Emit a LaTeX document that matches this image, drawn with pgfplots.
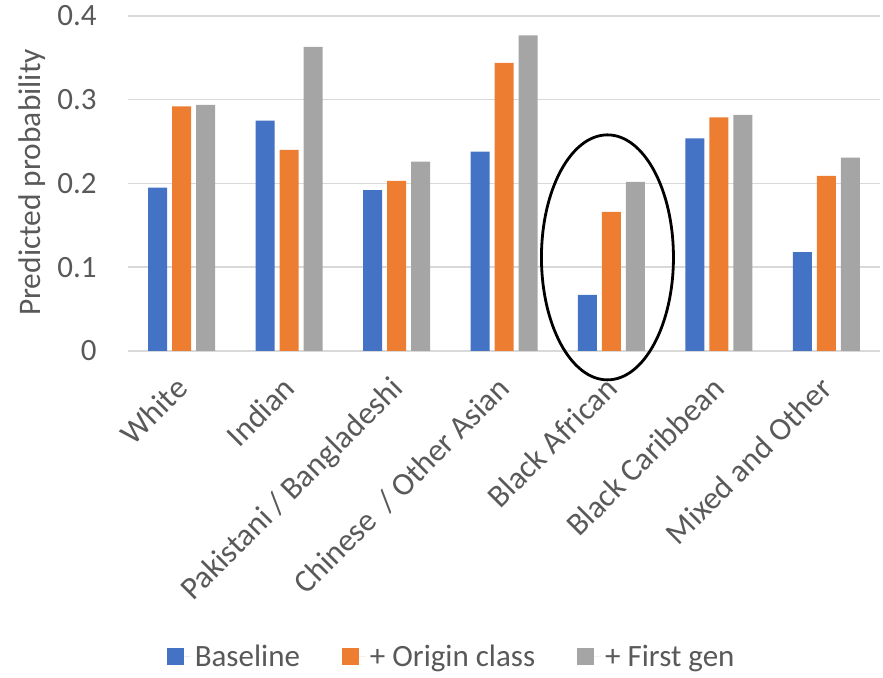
\documentclass[border=0pt]{standalone}
\usepackage{pgfplots}
\pgfplotsset{compat=1.18}
\usepackage{fontspec}
\setmainfont{Carlito}
\definecolor{cblue}{HTML}{4472C4}
\definecolor{corange}{HTML}{ED7D31}
\definecolor{cgray}{HTML}{A5A5A5}
\definecolor{gridgray}{HTML}{D9D9D9}
\definecolor{textgray}{HTML}{595959}
\begin{document}
\begin{tikzpicture}
\begin{axis}[
  width=376pt, height=167.5pt, scale only axis,
  ybar=2.5pt, bar width=9.5pt,
  xmin=-0.5, xmax=6.5, ymin=0, ymax=0.4,
  xtick={0,1,2,3,4,5,6},
  xticklabels={White,Indian,Pakistani / Bangladeshi,Chinese~ / Other Asian,Black African,Black Caribbean,Mixed and Other},
  ytick={0,0.1,0.2,0.3,0.4},
  yticklabels={0,0.1,0.2,0.3,0.4},
  ymajorgrids, grid style={line width=0.75pt, color=gridgray},
  axis line style={draw=none},
  major tick length=0pt,
  tick style={draw=none},
  tick label style={font=\fontsize{15.5}{18}\selectfont, text=textgray},
  yticklabel style={anchor=east, inner sep=0pt, xshift=-15.5pt},
  xticklabel style={xshift=-4pt, yshift=-11.7pt, rotate=45, anchor=north east, inner sep=0pt, font=\fontsize{16}{18}\selectfont},
  ylabel={Predicted probability},
  every axis y label/.style={at={(axis description cs:-0.1277,0.503)}, rotate=90, anchor=center, font=\fontsize{15.7}{18}\selectfont, text=textgray},
  legend style={at={(0.4317,-0.913)}, anchor=center, draw=none, font=\fontsize{15.5}{18}\selectfont, text=textgray, legend columns=3,
    /tikz/every even column/.append style={column sep=19pt}},
  legend image code/.code={\fill (0pt,-4.2pt) rectangle (8.4pt,4.2pt); \path (8.4pt,0pt) -- (12pt,0pt);},
  clip=false,
]
\addplot[fill=cblue, draw=none] coordinates {(0,0.195) (1,0.275) (2,0.192) (3,0.238) (4,0.067) (5,0.254) (6,0.118)};
\addplot[fill=corange, draw=none] coordinates {(0,0.292) (1,0.240) (2,0.203) (3,0.344) (4,0.166) (5,0.279) (6,0.209)};
\addplot[fill=cgray, draw=none] coordinates {(0,0.294) (1,0.363) (2,0.226) (3,0.377) (4,0.202) (5,0.282) (6,0.231)};
\legend{Baseline,+ Origin class,+ First gen}
\draw[black, line width=1.4pt] (axis cs:3.963,0.1118) ellipse [x radius=33pt, y radius=61.25pt];
\coordinate (bl) at (rel axis cs:0,0);
\end{axis}
\path[use as bounding box] ([shift={(-64pt,-161pt)}]bl) rectangle ++(441.5pt,336.5pt);
\end{tikzpicture}
\end{document}
